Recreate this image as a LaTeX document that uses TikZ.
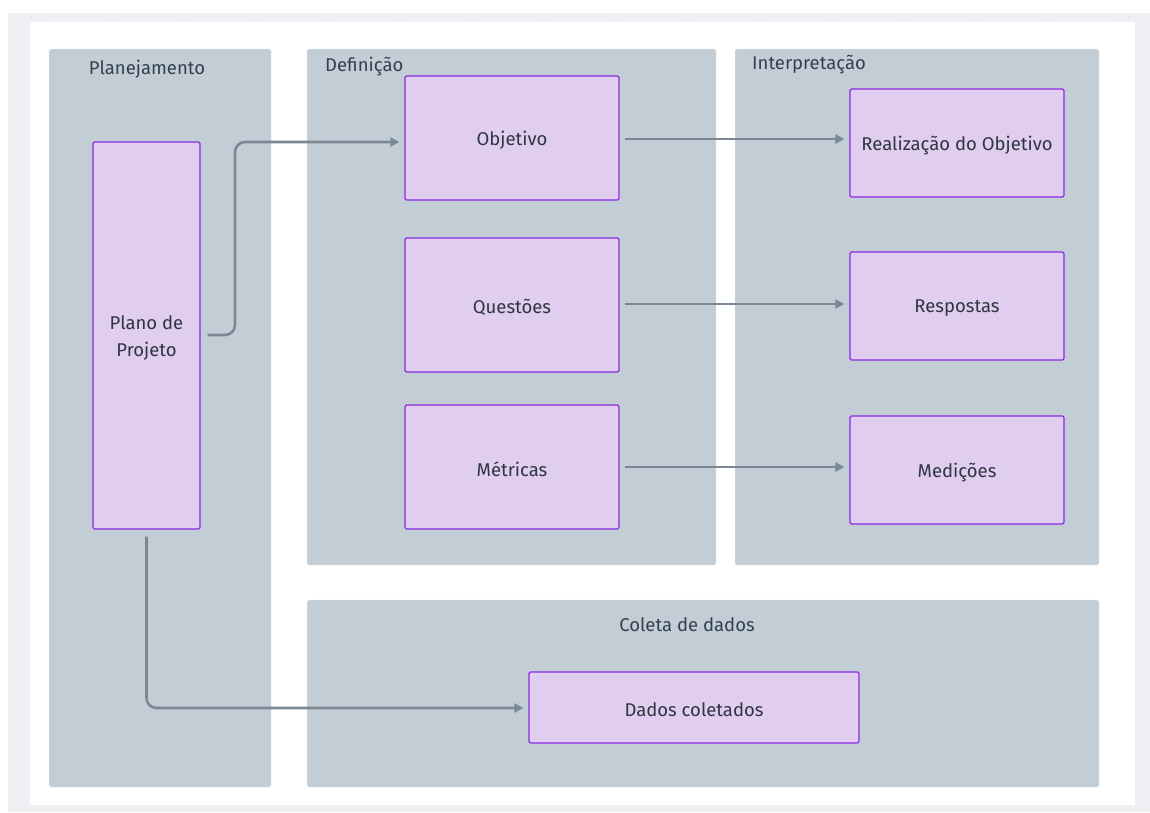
\documentclass[tikz,border=0pt]{standalone}
\usepackage{fontspec}
\setmainfont{Fira Sans}
\usetikzlibrary{arrows.meta}
\definecolor{bgdots}{HTML}{EFF0F4}
\definecolor{dotc}{HTML}{C9CCD4}
\definecolor{groupfill}{HTML}{C3CDD6}
\definecolor{nodefill}{HTML}{E1CDEF}
\definecolor{nodeline}{HTML}{8A2BE2}
\definecolor{edgec}{HTML}{7A8896}
\definecolor{titlec}{HTML}{33404E}
\definecolor{textc}{HTML}{2E3640}
\tikzset{
  grp/.style={fill=groupfill, draw=groupfill!90!black!20, line width=0.4pt, rounded corners=1.5pt},
  grptitle/.style={text=titlec, font=\fontsize{18.5}{22}\selectfont, inner sep=0pt},
  boxtext/.style={text=textc, font=\fontsize{18.5}{27}\selectfont, align=center,
    inner sep=0pt, yshift=-2.5pt},
  box/.style={fill=nodefill, draw=nodeline, line width=1.3pt, rounded corners=1.5pt,
    inner sep=0pt, label={[boxtext]center:#1}},
  link/.style={draw=edgec, line width=2.6pt, rounded corners=10pt,
    -{Triangle[length=9pt,width=9pt]}},
}
\begin{document}
\begin{tikzpicture}[x=1pt,y=-1pt]
\useasboundingbox (0,0) rectangle (1150,812);
\fill[white] (0,0) rectangle (1150,812);
% dotted canvas margin
\fill[bgdots] (8,13) rectangle (1150,812);
\foreach \x in {13,22,...,1150} {
  \fill[dotc] (\x,17) circle (0.6);
  \fill[dotc] (\x,809) circle (0.6);
}
\foreach \y in {26,35,...,805} {
  \fill[dotc] (13,\y) circle (0.6);
  \fill[dotc] (22,\y) circle (0.6);
  \fill[dotc] (1141,\y) circle (0.6);
}
% white sheet
\fill[white] (30,22) rectangle (1135,805);

% groups
\path[grp] (49,49) rectangle (271,787);
\path[grp] (307,49) rectangle (716,565);
\path[grp] (735,49) rectangle (1099,565);
\path[grp] (307,600) rectangle (1099,787);
\node[grptitle] (tplan) at (147,69) {Planejamento};
\node[grptitle, anchor=west] (tdef) at (325,67) {Definição};
\node[grptitle, anchor=west] (tint) at (752,65) {Interpretação};
\node[grptitle] (tcol) at (687,625) {Coleta de dados};

% nodes
\node[box={Plano de\\Projeto}, minimum width=107pt, minimum height=387pt] (plano) at (146.5,335.5) {};
\node[box=Objetivo, minimum width=214pt, minimum height=124pt] (obj) at (512,138) {};
\node[box=Questões, minimum width=214pt, minimum height=134pt] (que) at (512,305) {};
\node[box=Métricas, minimum width=214pt, minimum height=124pt] (met) at (512,467) {};
\node[box=Realização do Objetivo, minimum width=214pt, minimum height=108pt] (real) at (957,143) {};
\node[box=Respostas, minimum width=214pt, minimum height=108pt] (resp) at (957,306) {};
\node[box=Medições, minimum width=214pt, minimum height=108pt] (med) at (957,470) {};
\node[box=Dados coletados, minimum width=330pt, minimum height=71pt] (dados) at (694,707.5) {};

% connectors
\coordinate (bendA) at (235,335);
\draw[link] ([xshift=7pt]plano.east |- 0,335) -- (bendA) -- (235,142) -- ([xshift=-5pt]obj.west |- 0,142);
\draw[link] ([xshift=5pt]obj.east |- 0,139) -- ([xshift=-5pt]real.west |- 0,139);
\draw[link] ([xshift=5pt]que.east |- 0,304) -- ([xshift=-5pt]resp.west |- 0,304);
\draw[link] ([xshift=5pt]met.east |- 0,467) -- ([xshift=-5pt]med.west |- 0,467);
\draw[link] ([yshift=-7pt]plano.south) -- (plano.south |- 0,708) -- ([xshift=-5pt]dados.west |- 0,708);
\end{tikzpicture}
\end{document}
